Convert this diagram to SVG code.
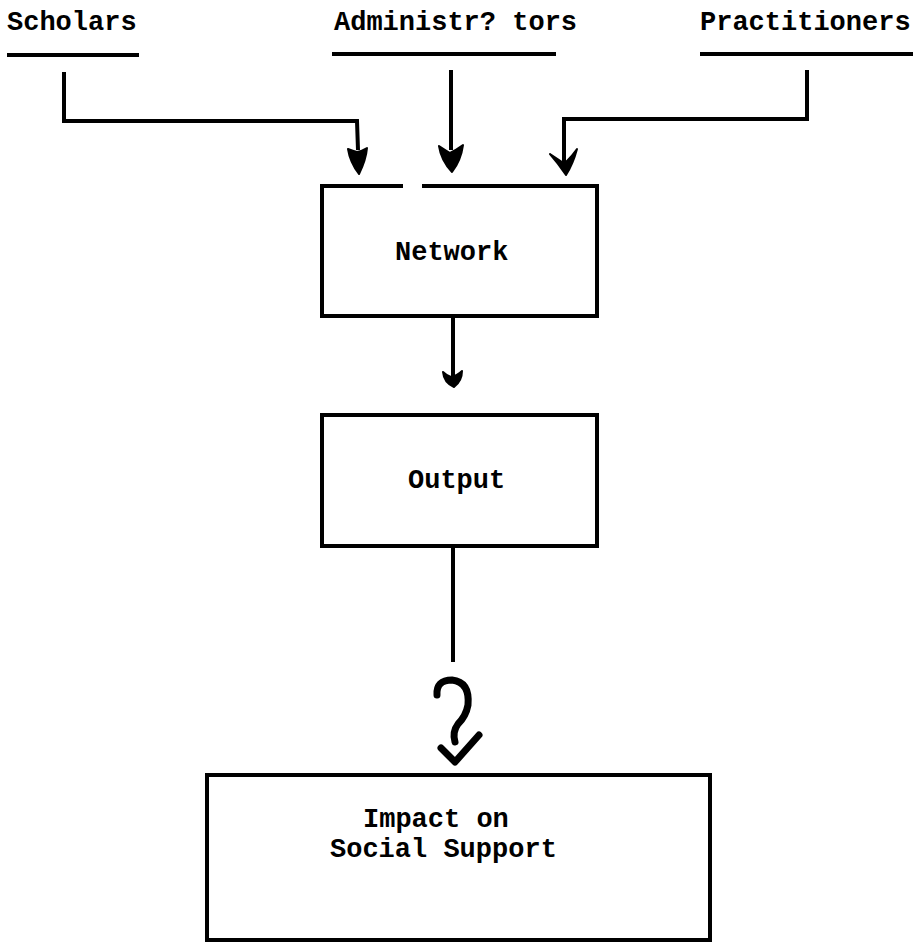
<svg xmlns="http://www.w3.org/2000/svg" width="915" height="942" viewBox="0 0 915 942">
<style>
.t{font-family:"Liberation Mono","Courier New",monospace;font-weight:bold;font-size:27px;fill:#000}
.ln{fill:none;stroke:#000;stroke-width:4;stroke-linejoin:miter;stroke-linecap:butt}
.bx{fill:#fff;stroke:#000;stroke-width:4}
.hd{fill:#000;stroke:#000;stroke-width:2;stroke-linejoin:round}
</style>
<g id="scholars">
<text class="t" x="7" y="30">Scholars</text>
<line class="ln" x1="7" y1="55" x2="139" y2="55"/>
</g>
<g id="administrators">
<text class="t" x="334" y="30">Administr? tors</text>
<line class="ln" x1="332" y1="54" x2="556" y2="54"/>
</g>
<g id="practitioners">
<text class="t" x="700" y="30">Practitioners</text>
<line class="ln" x1="700" y1="54" x2="913" y2="54"/>
</g>
<g id="network">
<path class="ln" d="M403,186 L322,186 L322,316 L597,316 L597,186 L422,186"/>
<text class="t" x="395" y="260">Network</text>
</g>
<g id="output">
<rect class="bx" x="322" y="415" width="275" height="131"/>
<text class="t" x="408" y="488">Output</text>
</g>
<g id="impact">
<rect class="bx" x="207" y="775" width="503" height="165"/>
<text class="t" x="363" y="827">Impact on</text>
<text class="t" x="330" y="857">Social Support</text>
</g>
<g id="connectors">
<polyline class="ln" points="64,72 64,121 357,121 358,150"/>
<path class="hd" d="M348,149 Q353,151 357,152 Q362,151 367,148 Q366,160 359,174 Q350,162 348,149 Z"/>
<line class="ln" x1="451" y1="70" x2="451" y2="150"/>
<path class="hd" d="M439,146 Q445,150 450,153 Q456,150 463,145 Q461,160 452,172 Q441,160 439,146 Z"/>
<polyline class="ln" points="807,70 807,119 564,119 564,165"/>
<path class="hd" d="M550,154 Q556,158 562,162 L567,161 Q572,156 577,149 Q573,164 566,175 Q558,163 550,154 Z"/>
<line class="ln" x1="453" y1="316" x2="453" y2="378"/>
<path class="hd" d="M443,372 Q447,376 451,377 Q457,376 462,371 Q462,381 454,387 Q444,383 443,372 Z"/>
<line class="ln" x1="453" y1="546" x2="453" y2="662"/>
<path d="M437,695 Q436,680 452,680 Q470,682 468,705 Q466,716 458,724 Q452,732 455,742" fill="none" stroke="#000" stroke-width="7" stroke-linecap="round"/>
<path d="M441,748 L455,762 L479,735" fill="none" stroke="#000" stroke-width="7" stroke-linecap="round" stroke-linejoin="round"/>
</g>
</svg>
